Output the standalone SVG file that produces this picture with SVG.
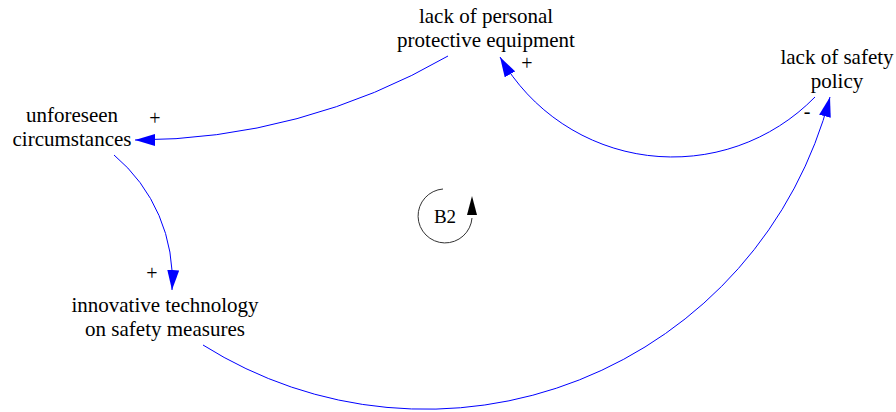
<svg xmlns="http://www.w3.org/2000/svg" width="896" height="412" viewBox="0 0 896 412">
<style>
text{font-family:'Liberation Serif',Tinos,'Times New Roman',Times,'DejaVu Serif',serif;fill:#000;text-anchor:middle}
.lbl{font-size:21px}
.sign{font-size:20px}
.link{fill:none;stroke:#0000ff;stroke-width:1;marker-end:url(#ah)}
</style>
<defs>
<marker id="ah" viewBox="0 0 20 12" refX="20" refY="6" markerWidth="20" markerHeight="12" markerUnits="userSpaceOnUse" orient="auto">
<path d="M0,0 L20,6 L0,12 z" fill="#0000ff"/>
</marker>
</defs>
<rect width="896" height="412" fill="#fff"/>
<g id="connectors">
<path class="link" d="M448,56 A625,625 0 0,1 135,140"/>
<path class="link" d="M815,97 A199,199 0 0,1 500,57"/>
<path class="link" d="M114,155 A163,163 0 0,1 172,290"/>
<path class="link" d="M203,345 A418,418 0 0,0 830,97"/>
</g>
<g id="signs">
<text class="sign" x="155" y="125">+</text>
<text class="sign" x="527" y="70">+</text>
<text class="sign" x="807" y="118">-</text>
<text class="sign" x="152" y="280">+</text>
</g>
<g id="node-ppe">
<text class="lbl" x="486" y="23">lack of personal</text>
<text class="lbl" x="486" y="47">protective equipment</text>
</g>
<g id="node-unforeseen">
<text class="lbl" x="72" y="122">unforeseen</text>
<text class="lbl" x="72" y="146">circumstances</text>
</g>
<g id="node-policy">
<text class="lbl" x="837" y="64">lack of safety</text>
<text class="lbl" x="837" y="88">policy</text>
</g>
<g id="node-innovative">
<text class="lbl" x="165" y="312">innovative technology</text>
<text class="lbl" x="165" y="336">on safety measures</text>
</g>
<g id="loop-b2">
<path d="M443,189 A27,27 0 1,0 472,218" fill="none" stroke="#333" stroke-width="1"/>
<polygon points="472,196 467,215 477,215" fill="#000"/>
<text class="lbl" x="445" y="223" style="font-size:19px">B2</text>
</g>
</svg>
